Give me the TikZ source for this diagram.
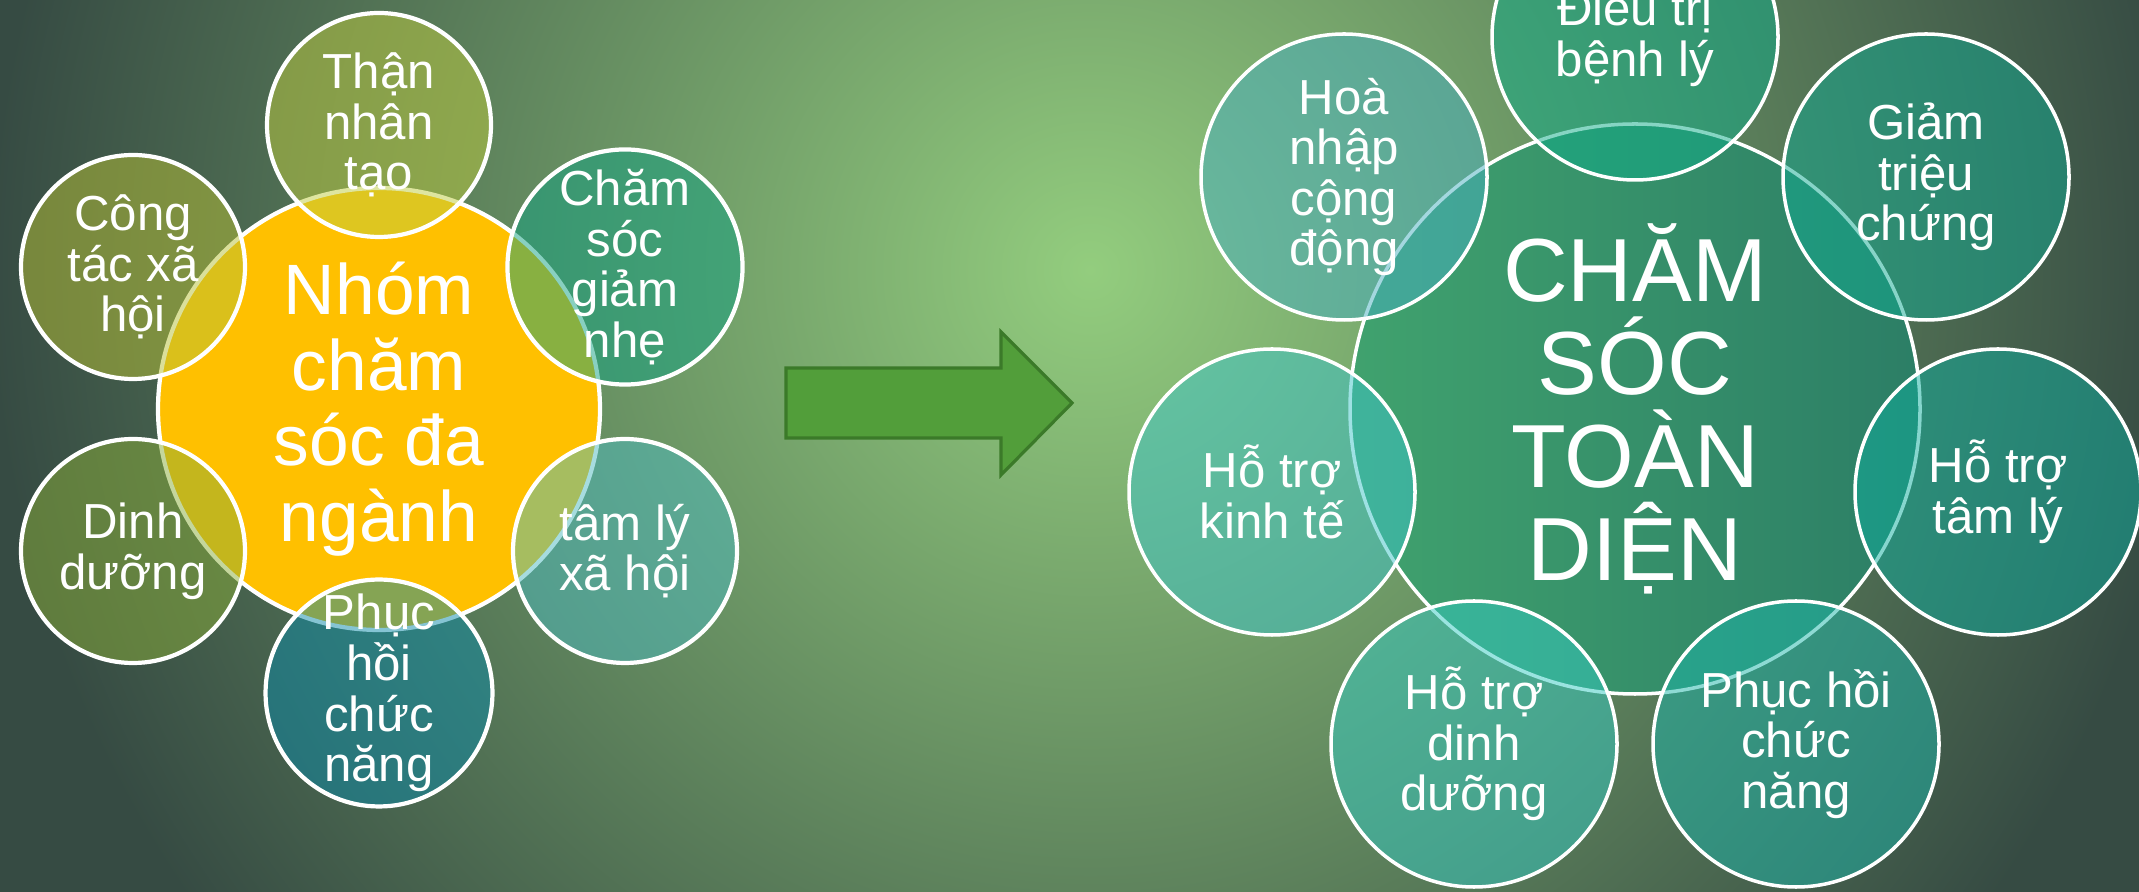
\documentclass[tikz,border=0pt]{standalone}
\usepackage{fontspec}
\setmainfont{Liberation Sans}

\definecolor{bglight}{HTML}{93CD7E}
\definecolor{bgdark}{HTML}{364B43}
\definecolor{hubyellow}{HTML}{FFC000}
\definecolor{hubgreenL}{HTML}{40A26E}
\definecolor{hubgreenR}{HTML}{2C7E66}
\definecolor{arrowfill}{HTML}{529E3A}
\definecolor{arrowline}{HTML}{3B7A29}
% left ring
\definecolor{thanC}{HTML}{BECC40}
\definecolor{congC}{HTML}{B7C036}
\definecolor{dinhC}{HTML}{8AAE3A}
\definecolor{phucC}{HTML}{0C8AA8}
\definecolor{tamC}{HTML}{4EBBC0}
\definecolor{chamC}{HTML}{12A282}
% right ring
\definecolor{dieuC}{HTML}{0FAD89}
\definecolor{hoaC}{HTML}{48B0C1}
\definecolor{kinhC}{HTML}{3FC5C9}
\definecolor{dduongC}{HTML}{36CBC2}
\definecolor{phuchoiC}{HTML}{1EB7AB}
\definecolor{tamlyC}{HTML}{0FAE9F}
\definecolor{giamC}{HTML}{11AA92}

\begin{document}
\begin{tikzpicture}[
    hub/.style={circle, draw=white, line width=1.2pt, inner sep=0pt, text=white, align=center},
    sat/.style={circle, draw=white, line width=1.2pt, fill opacity=0.5, text opacity=1,
        inner sep=0pt, minimum size=2.24cm, text=white, align=center,
        font=\fontsize{14}{14.4}\selectfont},
    bigsat/.style={sat, line width=1pt, minimum size=2.86cm}
]
    \useasboundingbox (0,0) rectangle (21.39,8.92);
    \clip (0,0) rectangle (21.39,8.92);
    \fill[bgdark] (0,0) rectangle (21.39,8.92);
    \shade[inner color=bglight, outer color=bgdark] (10.9,6.22) circle (11);

    % multidisciplinary team
    \node[hub, fill=hubyellow, minimum size=4.42cm, font=\fontsize{20.3}{21.5}\selectfont]
        at (3.79, 4.83) (nhom) {Nhóm\\chăm\\sóc đa\\ngành};
    \node[sat, fill=thanC] at (3.79, 7.67) (than) {Thận\\nhân\\tạo};
    \node[sat, fill=chamC] at (6.25, 6.25) (giamnhe) {Chăm\\sóc\\giảm\\nhẹ};
    \node[sat, fill=tamC] at (6.25, 3.41) (tamlyxh) {tâm lý\\xã hội};
    \node[sat, fill=phucC] at (3.79, 1.99) (phuchoi) {Phục\\hồi\\chức\\năng};
    \node[sat, fill=dinhC] at (1.33, 3.41) (dinhduong) {Dinh\\dưỡng};
    \node[sat, fill=congC] at (1.33, 6.25) (congtac) {Công\\tác xã\\hội};

    \draw[fill=arrowfill, draw=arrowline, line width=0.9pt, line join=miter]
        (7.86, 5.24) -- (10.01, 5.24) -- (10.01, 5.60) -- (10.72, 4.89)
        -- (10.01, 4.17) -- (10.01, 4.54) -- (7.86, 4.54) -- cycle;

    % comprehensive care
    \node[hub, left color=hubgreenL, right color=hubgreenR, line width=1pt,
        minimum size=5.7cm, font=\fontsize{25.5}{26.4}\selectfont]
        at (16.35, 4.83) (toandien) {CHĂM\\SÓC\\TOÀN\\DIỆN};
    \node[bigsat, fill=dieuC] at (16.35, 8.55) (dieutri) {Điều trị\\bệnh lý};
    \node[bigsat, fill=giamC] at (19.26, 7.15) (giamtc) {Giảm\\triệu\\chứng};
    \node[bigsat, fill=tamlyC] at (19.98, 4.00) (hotrotl) {Hỗ trợ\\tâm lý};
    \node[bigsat, fill=phuchoiC] at (17.96, 1.48) (phchn) {Phục hồi\\chức\\năng};
    \node[bigsat, fill=dduongC] at (14.74, 1.48) (hotrodd) {Hỗ trợ\\dinh\\dưỡng};
    \node[bigsat, fill=kinhC] at (12.72, 4.00) (hotrokt) {Hỗ trợ\\kinh tế};
    \node[bigsat, fill=hoaC] at (13.44, 7.15) (hoanhap) {Hoà\\nhập\\cộng\\động};
\end{tikzpicture}
\end{document}
